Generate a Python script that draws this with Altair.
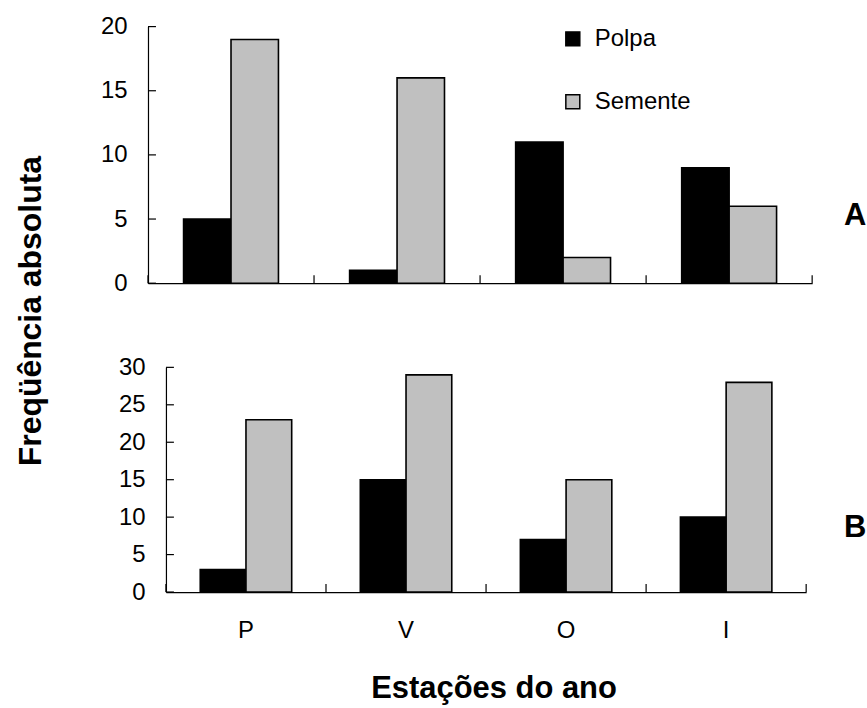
import altair as alt
import pandas as pd

# ---- data ----
estacoes = ["P", "V", "O", "I"]
partes = ["Polpa", "Semente"]
polpa_a = [5, 1, 11, 9]
semente_a = [19, 16, 2, 6]
polpa_b = [3, 15, 7, 10]
semente_b = [23, 29, 15, 28]
ticks_a = [0, 5, 10, 15, 20]
ticks_b = [0, 5, 10, 15, 20, 25, 30]
painel_labels = ["A", "B"]
x_title = "Estações do ano"
y_title = "Freqüência absoluta"

FONT = "Liberation Sans"


def to_long(polpa, semente):
    rows = []
    for i, e in enumerate(estacoes):
        rows.append({"estacao": e, "parte": "Polpa", "freq": polpa[i]})
        rows.append({"estacao": e, "parte": "Semente", "freq": semente[i]})
    return pd.DataFrame(rows)


color_scale = alt.Scale(domain=partes, range=["#000000", "#c0c0c0"])
legend_top = alt.Legend(
    orient="none", legendX=414, legendY=0.3, title=None, symbolType="square",
    symbolSize=196, symbolStrokeColor="black", symbolStrokeWidth=1.5,
    labelFont=FONT, labelFontSize=24, labelColor="black", labelOffset=10,
    rowPadding=39, padding=0,
)


def label(text, x, y, size, angle=None):
    kw = dict(font=FONT, fontSize=size, fontWeight="bold", color="black",
              align="center", baseline="alphabetic")
    if angle is not None:
        kw["angle"] = angle
    return alt.Chart(pd.DataFrame({"t": [text]})).mark_text(**kw).encode(
        text="t:N", x=alt.value(x), y=alt.value(y))


def panel(df, ticks, width, plot_w, height, ymax, show_labels, legend, extra):
    xscale = alt.Scale(domain=estacoes, range=[0, plot_w], paddingInner=0, paddingOuter=0)
    yscale = alt.Scale(domain=[0, ymax], nice=False, zero=True)
    xaxis = alt.Axis(
        title=None, ticks=False, tickSize=0, labels=show_labels, labelFont=FONT,
        labelFontSize=24, labelColor="black", labelPadding=27, labelAngle=0,
        domainColor="black", domainWidth=1.2, grid=False,
    )
    yaxis = alt.Axis(
        title=None, values=ticks, ticks=False, tickSize=0, labelFont=FONT,
        labelFontSize=24, labelColor="black", labelPadding=21,
        domainColor="black", domainWidth=1.2, grid=False,
    )
    bars = alt.Chart(df).mark_bar(stroke="black", strokeWidth=1.6).encode(
        x=alt.X("estacao:N", scale=xscale, axis=xaxis),
        xOffset=alt.XOffset("parte:N", scale=alt.Scale(domain=partes, paddingInner=0,
                                                        paddingOuter=0.75)),
        y=alt.Y("freq:Q", scale=yscale, axis=yaxis),
        color=alt.Color("parte:N", scale=color_scale, legend=legend),
    )
    tick_df = pd.DataFrame({"estacao": estacoes})
    xticks = alt.Chart(tick_df).mark_rule(color="black", strokeWidth=1.2).encode(
        x=alt.X("estacao:N", scale=xscale, bandPosition=0, axis=xaxis),
        y=alt.value(height), y2=alt.value(height - 8),
    )
    xticks_end = alt.Chart(tick_df.tail(1)).mark_rule(color="black", strokeWidth=1.2).encode(
        x=alt.X("estacao:N", scale=xscale, bandPosition=1, axis=xaxis),
        y=alt.value(height), y2=alt.value(height - 8),
    )
    yticks = alt.Chart(pd.DataFrame({"freq": ticks})).mark_rule(color="black", strokeWidth=1.2).encode(
        y=alt.Y("freq:Q", scale=yscale, axis=yaxis),
        x=alt.value(0), x2=alt.value(8),
    )
    return alt.layer(bars, xticks, xticks_end, yticks, *extra).properties(
        width=width, height=height)


top = panel(
    to_long(polpa_a, semente_a), ticks_a, 678, 666, 257.3, 20, False, legend_top,
    [label(painel_labels[0], 709, 199.3, 31), label(y_title, -107, 285.3, 32, angle=270)],
)
bottom = panel(
    to_long(polpa_b, semente_b), ticks_b, 642, 642, 225.3, 30, True, None,
    [label(painel_labels[1], 691, 170.3, 31), label(x_title, 329, 331.3, 31)],
)

chart = (
    alt.vconcat(top, bottom, spacing=83.7, bounds="flush", center=True)
    .resolve_scale(x="independent", y="independent", xOffset="independent")
    .properties(padding={"left": 15.4, "top": 13.7, "right": 0, "bottom": 0})
    .configure_view(stroke=None)
)

chart.save("out.html", embed_options={"renderer": "svg", "actions": False})
